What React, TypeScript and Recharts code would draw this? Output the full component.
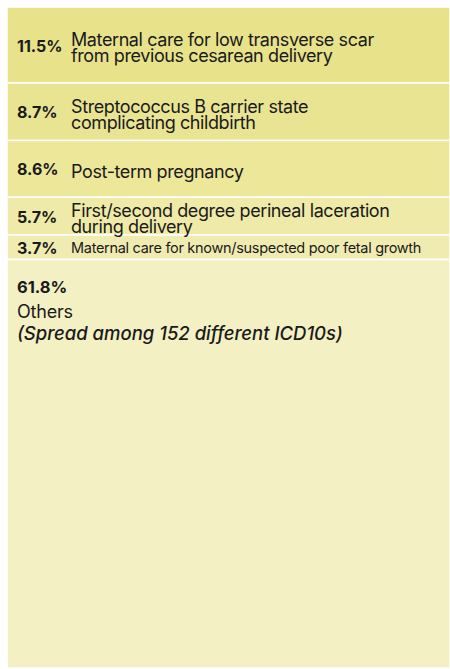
import { Bar, BarChart, LabelList, XAxis, YAxis } from 'recharts';

const shares = [11.5, 8.7, 8.6, 5.7, 3.7, 61.8];
const percentLabels = ['11.5%', '8.7%', '8.6%', '5.7%', '3.7%', '61.8%'];
const diagnoses = [
  ['Maternal care for low transverse scar', 'from previous cesarean delivery'],
  ['Streptococcus B carrier state', 'complicating childbirth'],
  ['Post-term pregnancy'],
  ['First/second degree perineal laceration', 'during delivery'],
  ['Maternal care for known/suspected poor fetal growth'],
  ['Others'],
];
const othersNote = '(Spread among 152 different ICD10s)';
const colors = ['#e8e28a', '#e9e492', '#ede799', '#efeaa7', '#f0ecb1', '#f3f0c3'];

const keys = shares.map((_, i) => `s${i}`);
const data = [
  shares.reduce((row: any, v, i) => {
    row[keys[i]] = v;
    return row;
  }, { name: 'all' }),
];

const FONT = 'Inter, "Noto Sans", sans-serif';

function SegmentLabel(props: any, i: number) {
  const { x, y, height } = props;
  const px = Number(x) + 10;
  const tx = Number(x) + 64;
  const h = Math.abs(Number(height));
  const top = Math.min(Number(y), Number(y) + Number(height));

  if (i === shares.length - 1) {
    // "Others" block sits at the top of the big segment
    return (
      <g>
        <text x={px} y={top + 33} fontFamily={FONT} fontSize={16.5} fontWeight={700} fill="#1a1a1a">
          {percentLabels[i]}
        </text>
        <text x={px} y={top + 58} fontFamily={FONT} fontSize={18} fill="#1a1a1a" letterSpacing={-0.2}>
          {diagnoses[i][0]}
        </text>
        <text x={px} y={top + 80} fontFamily={FONT} fontSize={18.5} fontWeight={500} fontStyle="italic" fill="#1a1a1a">
          {othersNote}
        </text>
      </g>
    );
  }

  const lines = diagnoses[i];
  const small = i === 4;
  const fs = small ? 14.5 : 18;
  const lh = 16;
  const mid = top + h / 2 + (small ? 1 : 2.5);
  const capHalf = fs * 0.36;
  return (
    <g>
      <text x={px} y={top + h / 2 + 6.5} fontFamily={FONT} fontSize={16} fontWeight={700} fill="#1a1a1a">
        {percentLabels[i]}
      </text>
      <text fontFamily={FONT} fontSize={fs} fill="#1a1a1a" letterSpacing={small ? -0.3 : -0.4}>
        {lines.map((line, j) => (
          <tspan key={j} x={tx} y={mid + (j - (lines.length - 1) / 2) * lh + capHalf}>
            {line}
          </tspan>
        ))}
      </text>
    </g>
  );
}

export default function App() {
  return (
    <div style={{ position: 'absolute', left: 0, top: 0, background: '#fff' }}>
      <BarChart
        width={450}
        height={669}
        data={data}
        margin={{ top: 7, right: 0, bottom: 1, left: 7 }}
        barCategoryGap={0}
      >
        <XAxis dataKey="name" hide />
        <YAxis type="number" domain={[0, 100]} reversed hide />
        {keys.map((k, i) => (
          <Bar
            key={k}
            dataKey={k}
            stackId="a"
            fill={colors[i]}
            stroke="#ffffff"
            strokeWidth={1.5}
            isAnimationActive={false}
          >
            <LabelList dataKey={k} content={(p: any) => SegmentLabel(p, i)} />
          </Bar>
        ))}
      </BarChart>
    </div>
  );
}
